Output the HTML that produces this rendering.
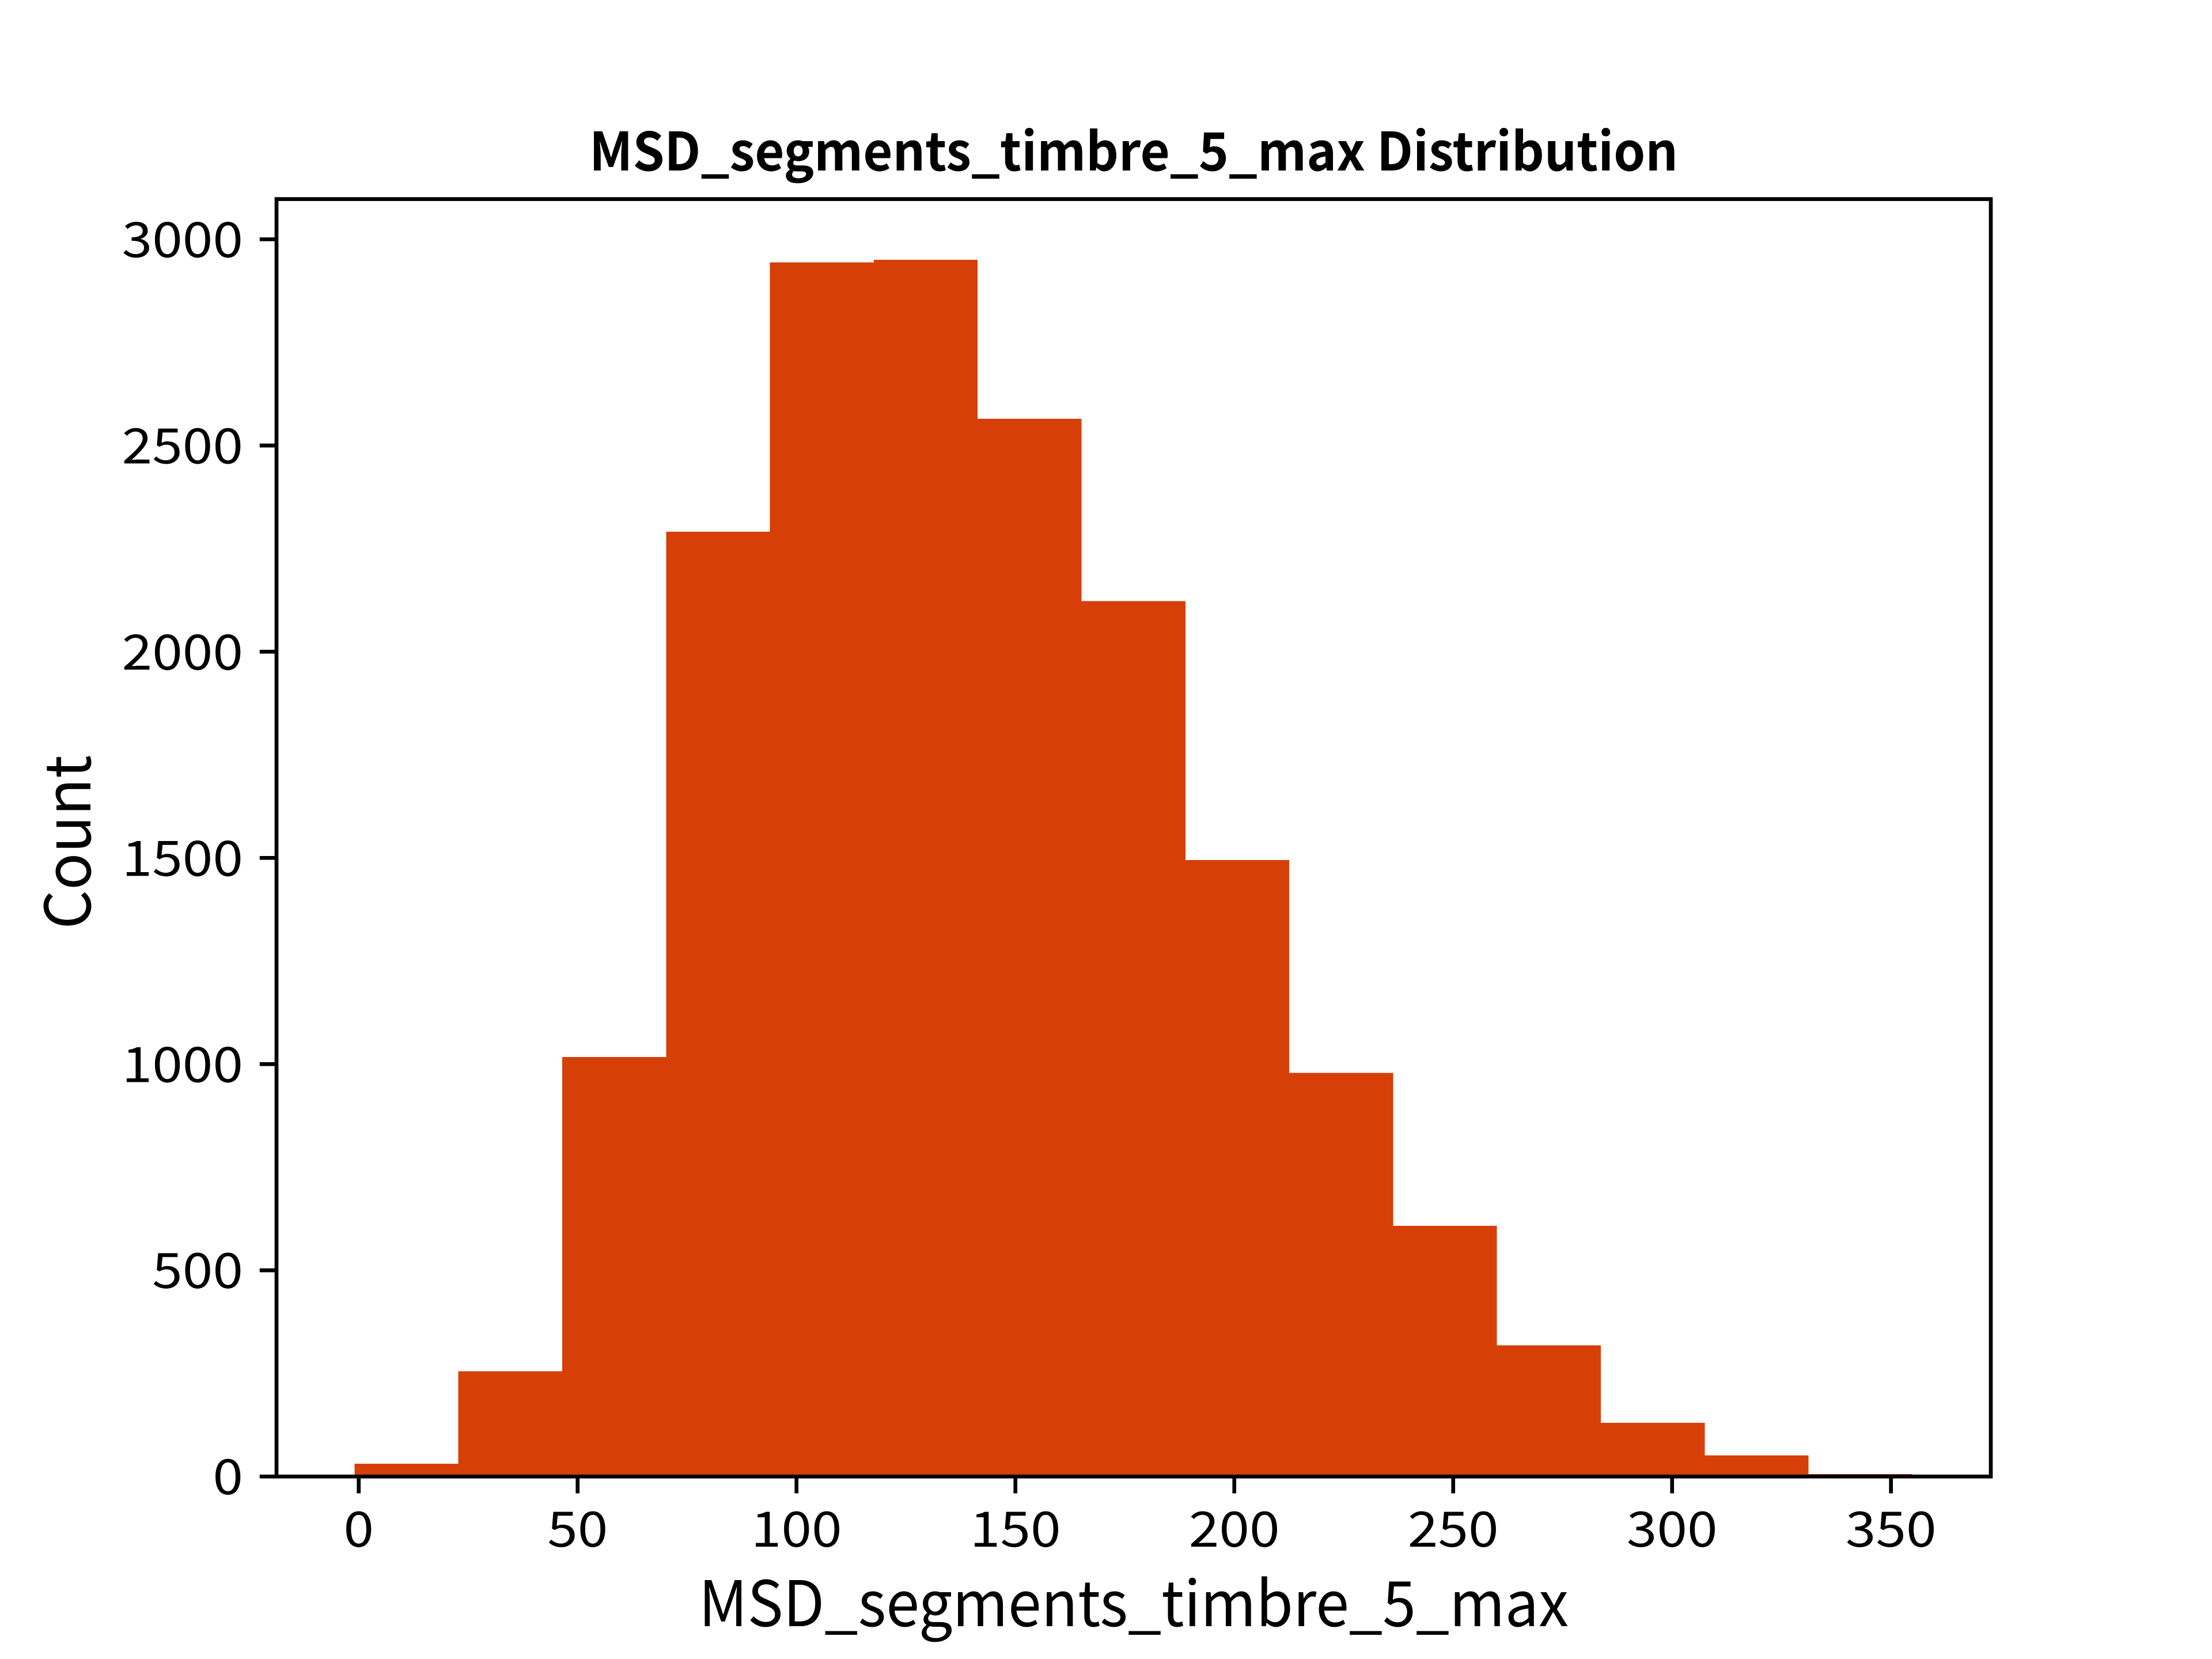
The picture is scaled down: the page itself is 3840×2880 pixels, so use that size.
<!DOCTYPE html>
<html lang="en">
<head>
<meta charset="utf-8">
<title>MSD_segments_timbre_5_max Distribution</title>
<style>
  html, body { margin: 0; padding: 0; background: #fff; }
  body { width: 3840px; height: 2880px; overflow: hidden; }
  svg { display: block; }
  text { font-family: "Noto Sans CJK JP", "Liberation Sans", sans-serif; fill: #000; }
</style>
</head>
<body>
<svg id="chart" xmlns="http://www.w3.org/2000/svg" width="3840" height="2880" viewBox="0 0 3840 2880">
  <rect x="0" y="0" width="3840" height="2880" fill="#ffffff"/>
  <g id="bars" shape-rendering="crispEdges"></g>
  <g id="xticks"></g>
  <g id="yticks"></g>
  <g id="spines"></g>
  <text x="1968" y="296" text-anchor="middle" font-size="91.5" font-weight="700" textLength="1890" lengthAdjust="spacingAndGlyphs">MSD_segments_timbre_5_max Distribution</text>
  <text x="1968" y="2823" text-anchor="middle" font-size="109" textLength="1510" lengthAdjust="spacingAndGlyphs">MSD_segments_timbre_5_max</text>
  <text transform="translate(157 1462) rotate(-90)" text-anchor="middle" font-size="109" textLength="302" lengthAdjust="spacingAndGlyphs">Count</text>
</svg>
<script>
const binStart = -0.97;
const binEnd = 354.9;
const counts = [31, 255, 1017, 2291, 2944, 2950, 2565, 2123, 1495, 979, 608, 318, 130, 51, 6];
const xTickValues = [0, 50, 100, 150, 200, 250, 300, 350];
const yTickValues = [0, 500, 1000, 1500, 2000, 2500, 3000];
const xDomain = [-18.78, 372.8];
const yDomain = [0, 3097.5];

const NS = 'http://www.w3.org/2000/svg';
const plot = { left: 480, right: 3456, top: 345.6, bottom: 2563.2 };
const tickLength = 29.2;
const lineWidth = 6.67;
const tickFontSize = 85;
const digitPitch = 52.6;

function xScale(v) {
  return plot.left + (v - xDomain[0]) / (xDomain[1] - xDomain[0]) * (plot.right - plot.left);
}
function yScale(v) {
  return plot.bottom - (v - yDomain[0]) / (yDomain[1] - yDomain[0]) * (plot.bottom - plot.top);
}
function make(tag, attrs, parent) {
  const el = document.createElementNS(NS, tag);
  Object.keys(attrs).forEach(function (k) { el.setAttribute(k, attrs[k]); });
  parent.appendChild(el);
  return el;
}
function tickLabelAttrs(text, x, y, anchor) {
  return {
    x: x,
    y: y,
    'text-anchor': anchor,
    'font-size': tickFontSize,
    textLength: text.length * digitPitch,
    lengthAdjust: 'spacingAndGlyphs'
  };
}

const barsGroup = document.getElementById('bars');
const binWidth = (binEnd - binStart) / counts.length;
counts.forEach(function (count, i) {
  const x0 = xScale(binStart + i * binWidth);
  const x1 = xScale(binStart + (i + 1) * binWidth);
  const y = yScale(count);
  const bar = make('rect', { x: x0, y: y, width: x1 - x0, height: yScale(0) - y, fill: '#d63f08' }, barsGroup);
  
  
});

const xTicksGroup = document.getElementById('xticks');
xTickValues.forEach(function (v) {
  const x = xScale(v);
  const tick = make('line', { x1: x, x2: x, y1: plot.bottom, y2: plot.bottom + tickLength, stroke: '#000', 'stroke-width': lineWidth }, xTicksGroup);
  
  
  const text = String(v);
  const label = make('text', tickLabelAttrs(text, x, 2685, 'middle'), xTicksGroup);
  label.textContent = text;
  
  
});

const yTicksGroup = document.getElementById('yticks');
yTickValues.forEach(function (v) {
  const y = yScale(v);
  const tick = make('line', { x1: plot.left - tickLength, x2: plot.left, y1: y, y2: y, stroke: '#000', 'stroke-width': lineWidth }, yTicksGroup);
  
  
  const text = String(v);
  const label = make('text', tickLabelAttrs(text, 422, y + 31, 'end'), yTicksGroup);
  label.textContent = text;
  
  
});

const spines = document.getElementById('spines');
const frame = make('rect', { x: plot.left, y: plot.top, width: plot.right - plot.left, height: plot.bottom - plot.top, fill: 'none', stroke: '#000', 'stroke-width': lineWidth }, spines);


</script>
</body>
</html>
